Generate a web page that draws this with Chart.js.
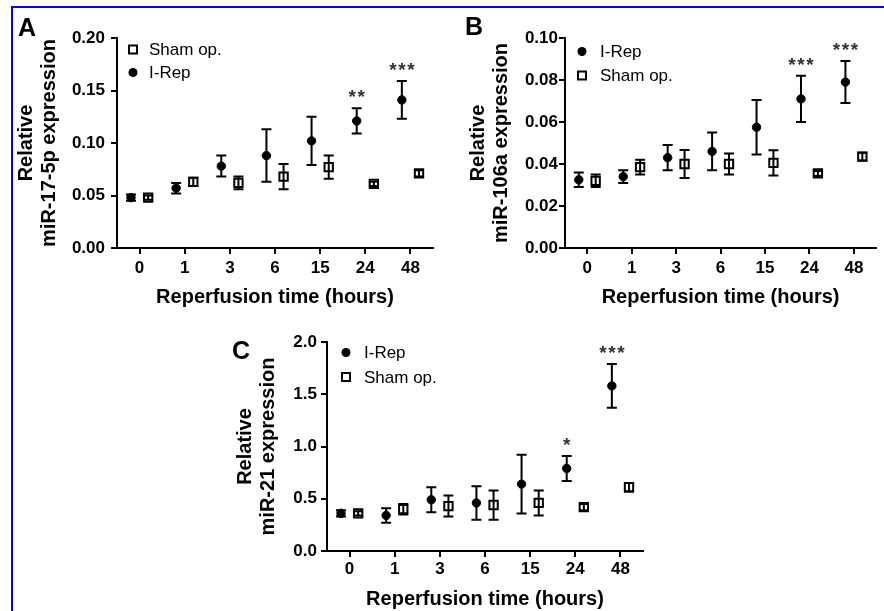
<!DOCTYPE html>
<html>
<head>
<meta charset="utf-8">
<script src="https://cdn.jsdelivr.net/npm/chart.js@4.4.0/dist/chart.umd.min.js"></script>
<style>
  body { margin: 0; background: #fff; width: 884px; height: 611px; overflow: hidden; position: relative;
         font-family: 'Liberation Sans', Arial, sans-serif; }
  .frame { position: absolute; left: 11px; top: 6px; width: 900px; height: 700px;
           border-top: 2px solid #0000ff; border-left: 2px solid #0000ff; }
  canvas { position: absolute; }
  .letter { position: absolute; font-weight: bold; font-size: 25px; line-height: 1; color: #000; }
</style>
</head>
<body>
<div class="frame"></div>
<canvas id="chartA" width="445" height="311" style="left:0;top:0"></canvas>
<canvas id="chartB" width="439" height="311" style="left:445px;top:0"></canvas>
<canvas id="chartC" width="440" height="306" style="left:220px;top:305px"></canvas>
<div class="letter" style="left:18px;top:15px">A</div>
<div class="letter" style="left:465px;top:14px">B</div>
<div class="letter" style="left:232px;top:338px">C</div>
<script>
var timeLabels = ['0', '1', '3', '6', '15', '24', '48'];

// panel A - miR-17-5p
var mir17IRep = [0.048, 0.057, 0.078, 0.088, 0.102, 0.121, 0.141];
var mir17IRepSem = [0.003, 0.005, 0.010, 0.025, 0.023, 0.012, 0.018];
var mir17Sham = [0.048, 0.063, 0.062, 0.068, 0.077, 0.061, 0.071];
var mir17ShamSem = [0.002, 0.004, 0.006, 0.012, 0.011, 0.002, 0.003];
var mir17Stars = ['', '', '', '', '', '**', '***'];
var mir17Ticks = [0, 0.05, 0.10, 0.15, 0.20];

// panel B - miR-106a
var mir106IRep = [0.0325, 0.034, 0.043, 0.046, 0.0575, 0.071, 0.079];
var mir106IRepSem = [0.0035, 0.003, 0.006, 0.009, 0.013, 0.011, 0.010];
var mir106Sham = [0.032, 0.0385, 0.040, 0.040, 0.0405, 0.0355, 0.0435];
var mir106ShamSem = [0.003, 0.0035, 0.0067, 0.005, 0.006, 0.0012, 0.0018];
var mir106Stars = ['', '', '', '', '', '***', '***'];
var mir106Ticks = [0, 0.02, 0.04, 0.06, 0.08, 0.10];

// panel C - miR-21
var mir21IRep = [0.36, 0.34, 0.49, 0.46, 0.64, 0.79, 1.58];
var mir21IRepSem = [0.03, 0.07, 0.12, 0.16, 0.28, 0.12, 0.21];
var mir21Sham = [0.36, 0.40, 0.43, 0.44, 0.46, 0.42, 0.61];
var mir21ShamSem = [0.02, 0.05, 0.10, 0.14, 0.12, 0.03, 0.04];
var mir21Stars = ['', '', '', '', '', '*', '***'];
var mir21Ticks = [0, 0.5, 1.0, 1.5, 2.0];

Chart.defaults.font.family = "'Liberation Sans', Arial, sans-serif";
Chart.defaults.color = '#000';

function points(values, shift) {
    return values.map(function(v, i) { return {x: i + shift, y: v}; });
}

function iRepSet(values, sem) {
    return {
        label: 'I-Rep', data: points(values, -0.19), sem: sem,
        pointStyle: 'circle', pointRadius: 4.2, backgroundColor: '#000',
        borderColor: '#000', borderWidth: 1, showLine: false
    };
}

function shamSet(values, sem) {
    return {
        label: 'Sham op.', data: points(values, 0.19), sem: sem,
        pointStyle: 'rect', pointRadius: 5.9, backgroundColor: '#fff',
        borderColor: '#000', borderWidth: 2, showLine: false
    };
}

// vertical SEM bars with caps
var errorBars = {
    id: 'errorBars',
    afterDatasetsDraw: function(chart) {
        var ctx = chart.ctx, y = chart.scales.y;
        ctx.save();
        ctx.strokeStyle = '#000';
        ctx.lineWidth = 2;
        chart.data.datasets.forEach(function(ds, di) {
            chart.getDatasetMeta(di).data.forEach(function(pt, i) {
                var v = ds.data[i].y, e = ds.sem[i];
                var top = y.getPixelForValue(v + e), bot = y.getPixelForValue(v - e);
                ctx.beginPath();
                ctx.moveTo(pt.x, top); ctx.lineTo(pt.x, bot);
                ctx.moveTo(pt.x - 5, top); ctx.lineTo(pt.x + 5, top);
                ctx.moveTo(pt.x - 5, bot); ctx.lineTo(pt.x + 5, bot);
                ctx.stroke();
            });
        });
        ctx.restore();
    }
};

// significance asterisks over the I-Rep bars
var stars = {
    id: 'stars',
    afterDatasetsDraw: function(chart, args, opts) {
        var ctx = chart.ctx, y = chart.scales.y;
        var ds = chart.data.datasets[opts.dataset];
        var meta = chart.getDatasetMeta(opts.dataset);
        ctx.save();
        ctx.fillStyle = '#333';
        ctx.font = 'bold 19px ' + Chart.defaults.font.family;
        ctx.textAlign = 'center';
        ctx.textBaseline = 'alphabetic';
        opts.labels.forEach(function(s, i) {
            if (!s) return;
            var pt = meta.data[i];
            var top = y.getPixelForValue(ds.data[i].y + ds.sem[i]);
            for (var k = 0; k < s.length; k++) {
                ctx.fillText(s[k], pt.x + (k - (s.length - 1) / 2) * 9, top - 5);
            }
        });
        ctx.restore();
    }
};

// legend drawn inside the plot area
var innerLegend = {
    id: 'innerLegend',
    afterDraw: function(chart, args, opts) {
        var ctx = chart.ctx, area = chart.chartArea;
        ctx.save();
        ctx.font = '17px ' + Chart.defaults.font.family;
        ctx.textBaseline = 'middle';
        ctx.fillStyle = '#000';
        chart.data.datasets.forEach(function(ds, i) {
            var cx = area.left + opts.x, cy = area.top + opts.rows[i];
            ctx.beginPath();
            if (ds.pointStyle === 'circle') {
                ctx.arc(cx, cy, 4.5, 0, Math.PI * 2);
                ctx.fillStyle = '#000';
                ctx.fill();
            } else {
                ctx.rect(cx - 4, cy - 4, 8, 8);
                ctx.fillStyle = '#fff';
                ctx.fill();
                ctx.lineWidth = 2;
                ctx.strokeStyle = '#000';
                ctx.stroke();
            }
            ctx.fillStyle = '#000';
            ctx.fillText(ds.label, cx + opts.textDx, cy + 1);
        });
        ctx.restore();
    }
};

function makePanel(id, datasets, yTicks, decimals, yTitle, starLabels, starSet, lay) {
    var yMax = yTicks[yTicks.length - 1];
    return new Chart(document.getElementById(id), {
        type: 'scatter',
        data: {datasets: datasets},
        plugins: [errorBars, stars, innerLegend],
        options: {
            responsive: false,
            animation: false,
            events: [],
            layout: {padding: {left: 0, top: lay.top, right: lay.right, bottom: 0}},
            plugins: {
                legend: {display: false},
                tooltip: {enabled: false},
                stars: {labels: starLabels, dataset: starSet},
                innerLegend: lay.legend
            },
            scales: {
                x: {
                    type: 'linear', min: -0.5, max: 6.5,
                    afterBuildTicks: function(axis) {
                        axis.ticks = timeLabels.map(function(t, i) { return {value: i}; });
                    },
                    afterFit: function(axis) { axis.height = lay.xHeight; },
                    ticks: {
                        autoSkip: false, maxRotation: 0, padding: lay.xTickPad,
                        font: {size: 17, weight: 'bold'},
                        callback: function(v) { return timeLabels[v]; }
                    },
                    grid: {drawOnChartArea: false, color: '#000', lineWidth: 2, tickLength: 6},
                    border: {color: '#000', width: 2},
                    title: {
                        display: true, text: 'Reperfusion time (hours)',
                        font: {size: 20, weight: 'bold', lineHeight: 1.15},
                        padding: {top: 0, bottom: lay.xTitlePad}
                    }
                },
                y: {
                    min: 0, max: yMax,
                    afterBuildTicks: function(axis) {
                        axis.ticks = yTicks.map(function(v) { return {value: v}; });
                    },
                    afterFit: function(axis) { axis.width = lay.yWidth; },
                    ticks: {
                        padding: lay.yTickPad,
                        font: {size: 17, weight: 'bold'},
                        callback: function(v) { return v.toFixed(decimals); }
                    },
                    grid: {drawOnChartArea: false, color: '#000', lineWidth: 2, tickLength: 6},
                    border: {color: '#000', width: 2},
                    title: {
                        display: true, text: yTitle,
                        font: {size: 20, weight: 'bold', lineHeight: 1.15},
                        padding: {top: lay.yTitlePad, bottom: 0}
                    }
                }
            }
        }
    });
}

makePanel('chartA',
    [shamSet(mir17Sham, mir17ShamSem), iRepSet(mir17IRep, mir17IRepSem)],
    mir17Ticks, 2, ['Relative', 'miR-17-5p expression'], mir17Stars, 1,
    {top: 38, right: 12, xHeight: 63, yWidth: 117, yTickPad: 6, xTickPad: 4,
     xTitlePad: 2.5, yTitlePad: 14.5, legend: {x: 16, rows: [11.5, 34.5], textDx: 16}});

makePanel('chartB',
    [iRepSet(mir106IRep, mir106IRepSem), shamSet(mir106Sham, mir106ShamSem)],
    mir106Ticks, 2, ['Relative', 'miR-106a expression'], mir106Stars, 0,
    {top: 38, right: 0, xHeight: 63, yWidth: 120, yTickPad: 1, xTickPad: 4,
     xTitlePad: 2.5, yTitlePad: 21.5, legend: {x: 17, rows: [13.5, 37.5], textDx: 18}});

makePanel('chartC',
    [iRepSet(mir21IRep, mir21IRepSem), shamSet(mir21Sham, mir21ShamSem)],
    mir21Ticks, 1, ['Relative', 'miR-21 expression'], mir21Stars, 0,
    {top: 37, right: 17, xHeight: 60, yWidth: 107, yTickPad: 4, xTickPad: 2,
     xTitlePad: 0.5, yTitlePad: 13.5, legend: {x: 19, rows: [10.5, 35], textDx: 18}});
</script>
</body>
</html>
